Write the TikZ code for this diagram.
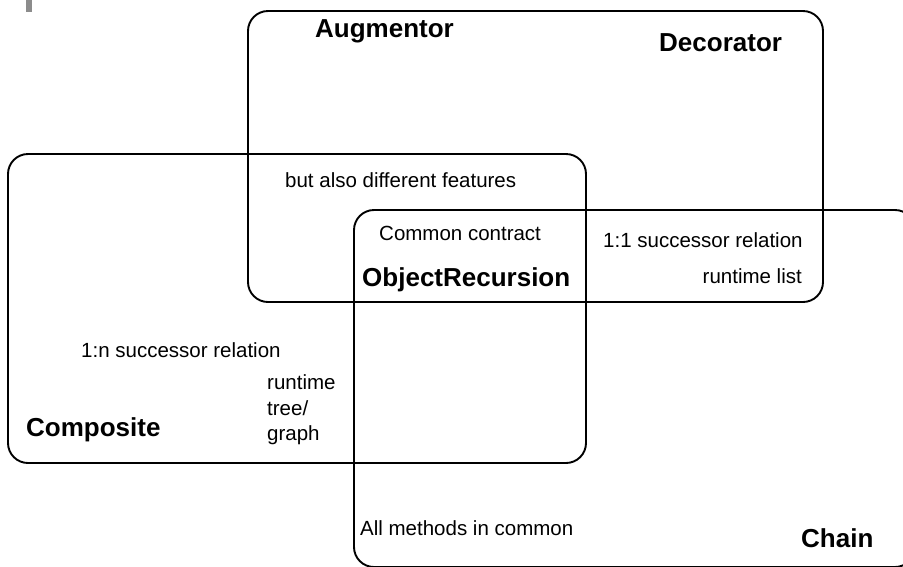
\documentclass[tikz,border=0pt]{standalone}
\usepackage{fontspec}
\setmainfont{Liberation Sans}
\begin{document}
\begin{tikzpicture}[x=1pt,y=-1pt,
  setbox/.style={draw=black,line width=1.9pt,rounded corners=20pt},
  lbl/.style={anchor=base west,inner sep=0pt,font=\fontsize{20.5}{24}\selectfont},
  lblr/.style={anchor=base east,inner sep=0pt,font=\fontsize{20.5}{24}\selectfont},
  title/.style={anchor=base west,inner sep=0pt,font=\fontsize{26}{30}\selectfont\bfseries}]
\useasboundingbox (0,0) rectangle (903,566);
\clip (0,0) rectangle (903,566);
\fill[white] (0,0) rectangle (903,566);
% artifact bar top-left
\fill[black!45] (25.5,0) rectangle (31.5,12);
% set boxes
\draw[setbox] (248,11) rectangle (823,302);
\draw[setbox] (8,154) rectangle (586,463);
\draw[setbox] (354,210) rectangle (915,567);
% labels
\node (aug) [title] at (315,37) {Augmentor};
\node (dec) [title] at (659,51) {Decorator};
\node (objrec) [title] at (362,286) {ObjectRecursion};
\node (comp) [title] at (26,436) {Composite};
\node (chain) [title] at (801,547) {Chain};
\node (diff) [lbl] at (285,187) {but also different features};
\node (contract) [lbl] at (379,240) {Common contract};
\node (oneone) [lbl] at (603,247) {1:1 successor relation};
\node (rlist) [lblr] at (802,283) {runtime list};
\node (onen) [lbl] at (81,357) {1:n successor relation};
\node (rt1) [lbl] at (267,389) {runtime};
\node (rt2) [lbl] at (267,415) {tree/};
\node (rt3) [lbl] at (267,440) {graph};
\node (allm) [lbl] at (360,535) {All methods in common};
\end{tikzpicture}
\end{document}
